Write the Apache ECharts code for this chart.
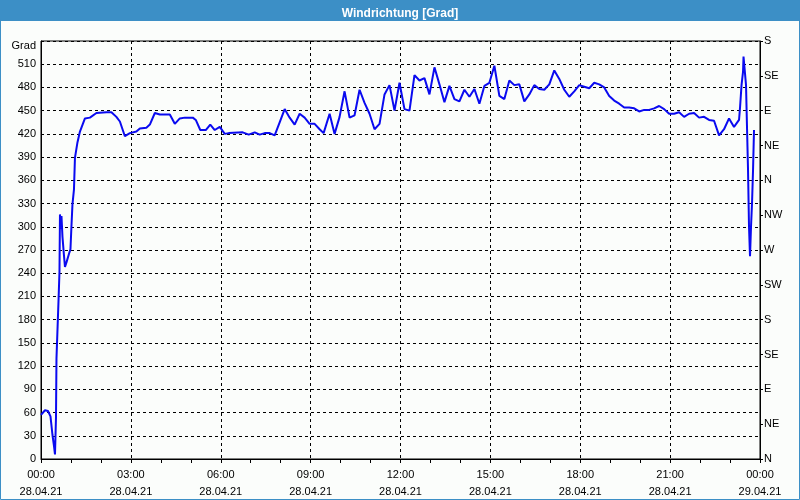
<!DOCTYPE html>
<html>
<head>
<meta charset="utf-8">
<script src="https://cdn.jsdelivr.net/npm/echarts@6/dist/echarts.min.js"></script>
<style>
html,body{margin:0;padding:0;background:#fbfdfb;}
#c{width:800px;height:500px;}
</style>
</head>
<body>
<div id="c"></div>
<script>
// Minutes since 28.04.21 00:00
const times = [0,8,14,19,23,26,28,30,31,35,37,38,40,41,43,46,48,51,57,59,61,63,66,
  68,73,78,88,98,111,131,141,151,158,168,178,191,198,211,218,228,238,258,268,278,288,
  291,304,310,319,330,339,348,358,368,376,404,416,428,438,448,458,468,478,488,498,508,
  518,528,538,548,558,566,578,588,598,608,618,628,638,648,658,668,678,688,698,708,718,
  728,738,748,758,768,778,788,798,808,818,828,838,848,858,868,878,888,898,908,918,928,
  938,948,958,968,978,988,998,1008,1018,1028,1038,1048,1058,1068,1078,1088,1098,1108,
  1118,1128,1138,1148,1158,1168,1178,1188,1198,1208,1218,1228,1238,1248,1258,1268,1278,
  1288,1298,1308,1318,1328,1338,1348,1358,1368,1378,1388,1398,1400,1403,1406,1407,1411,
  1412,1414,1416,1418,1420,1422,1424,1426,1428];
// Wind direction in degrees
const values = [57,63,62,55,31,17,6,53,130,203,242,316,297,314,287,263,248,254,267,271,301,329,348,
  389,409,423,440,441,447,448,448,442,436,417,421,423,427,428,432,447,445,445,433,440,441,
  440,441,438,425,425,432,425,429,420,421,422,419,422,419,421,421,418,435,452,441,432,
  446,441,433,433,426,421,446,420,442,475,441,444,477,460,446,426,433,471,483,450,486,
  452,450,496,489,492,471,506,484,461,482,465,462,477,468,478,459,482,486,508,469,465,
  489,483,484,462,471,483,478,477,484,502,491,477,468,475,483,481,479,486,
  484,480,469,463,459,454,454,453,449,451,451,453,456,452,446,446,448,
  442,446,447,441,442,438,437,418,426,440,429,438,454,483,500,520,520,
  483,428,374,300,262,300,330,372,425];
const xTickMinutes = [0,180,360,540,720,900,1080,1260,1440];
const xDateLabels = ['28.04.21','28.04.21','28.04.21','28.04.21','28.04.21','28.04.21','28.04.21','28.04.21','29.04.21'];
const rightLabels = ['N','NE','E','SE','S','SW','W','NW','N','NE','E','SE','S'];
const leftUnit = 'Grad';

const chart = echarts.init(document.getElementById('c'), null, {renderer:'canvas'});
const font = 'Liberation Sans';
const data = times.map((t,i)=>[t, values[i]]);
function pad(n){return (n<10?'0':'')+n;}
chart.setOption({
  backgroundColor:'#fbfdfb',
  animation:false,
  graphic:[
    {type:'rect', shape:{x:0,y:0,width:800,height:21}, style:{fill:'#3c8fc6'}, z:-1},
    {type:'rect', shape:{x:0.5,y:20,width:799,height:479.5}, style:{fill:'none',stroke:'#3c8fc6',lineWidth:1}, z:-1}
  ],
  title:{text:'Windrichtung [Grad]', left:'center', top:3,
    textStyle:{color:'#ffffff', fontFamily:font, fontSize:12, fontWeight:'bold'}},
  grid:{left:41, right:40, top:41, bottom:39, show:true, borderColor:'#000', borderWidth:1, backgroundColor:'transparent'},
  xAxis:{type:'value', min:0, max:1440, interval:180,
    axisLine:{lineStyle:{color:'#000',width:1}},
    axisTick:{show:true, length:4, lineStyle:{color:'#000'}},
    minorTick:{show:true, splitNumber:3, length:4, lineStyle:{color:'#000'}},
    splitLine:{show:true, lineStyle:{color:'#000', type:[3,3], width:1}},
    axisLabel:{color:'#000', fontFamily:font, fontSize:11, lineHeight:17, margin:7,
      formatter:function(v){
        const i = xTickMinutes.indexOf(v);
        const h = Math.floor(v/60)%24, m = v%60;
        return pad(h)+':'+pad(m)+'\n'+(i>=0?xDateLabels[i]:'');
      }}
  },
  yAxis:[
    {type:'value', min:0, max:540, interval:30, position:'left',
      axisLine:{show:true, lineStyle:{color:'#000'}},
      axisTick:{show:false},
      splitLine:{show:true, lineStyle:{color:'#000', type:[3,3], width:1}},
      axisLabel:{color:'#000', fontFamily:font, fontSize:11, margin:5,
        formatter:function(v){ return v===540 ? '{g|'+leftUnit+'}' : String(v); },
        rich:{g:{color:'#000', fontFamily:font, fontSize:11, padding:[10,0,0,0]}}}
    },
    {type:'value', min:0, max:540, interval:45, position:'right',
      axisLine:{show:true, lineStyle:{color:'#000'}},
      axisTick:{show:true, length:3, lineStyle:{color:'#000'}},
      splitLine:{show:false},
      axisLabel:{color:'#000', fontFamily:font, fontSize:11, margin:4,
        formatter:function(v){ return rightLabels[Math.round(v/45)]; }}
    }
  ],
  series:[{type:'line', yAxisIndex:0, data:data, showSymbol:false, symbol:'none',
    lineStyle:{color:'#0a0af0', width:2}, clip:true}]
});
</script>
</body>
</html>
